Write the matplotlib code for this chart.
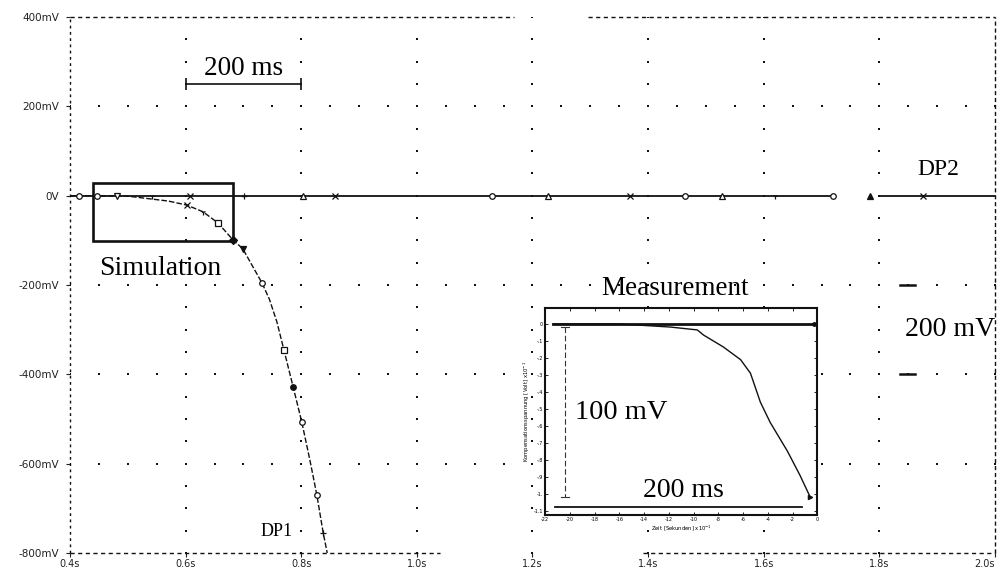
import numpy as np
import matplotlib
matplotlib.use("Agg")
import matplotlib.pyplot as plt

plt.rcParams["lines.scale_dashes"] = False

SERIF = ["Liberation Serif", "DejaVu Serif"]
TICKFONT = ["DejaVu Sans"]

# ---- main axis scale -------------------------------------------------------
x_ticks = [0.4, 0.6, 0.8, 1.0, 1.2, 1.4, 1.6, 1.8, 2.0]
x_tick_labels = ["0.4s", "0.6s", "0.8s", "1.0s", "1.2s", "1.4s", "1.6s", "1.8s", "2.0s"]
y_ticks = [400, 200, 0, -200, -400, -600, -800]
y_tick_labels = ["400mV", "200mV", "0V", "-200mV", "-400mV", "-600mV", "-800mV"]

# ---- simulated trace DP1 (time in s, voltage in mV) -------------------------
dp1_t = [0.40, 0.45, 0.50, 0.538, 0.570, 0.602, 0.630, 0.656, 0.682, 0.699,
         0.715, 0.732, 0.745, 0.758, 0.770, 0.786, 0.801, 0.815, 0.827, 0.838, 0.845]
dp1_v = [0, 0, -1, -7, -12, -21, -36, -61, -99, -119,
         -156, -195, -232, -283, -345, -428, -507, -592, -670, -755, -800]
dp1_markers = {5: "x", 6: "1", 7: "s", 8: "D", 9: "v", 11: "o", 14: "s",
               15: "o", 16: "o", 18: "o", 19: "+"}

# ---- reference trace DP2 (stays at 0 V) -------------------------------------
dp2_t = [0.40, 0.416, 0.447, 0.481, 0.542, 0.608, 0.701, 0.803, 0.858, 1.130,
         1.227, 1.369, 1.464, 1.528, 1.620, 1.720, np.nan, 1.784, np.nan, 1.800,
         1.876, 2.0]
dp2_v = [0, 0, 0, 0, 0, 0, 0, 0, 0, 0,
         0, 0, 0, 0, 0, 0, np.nan, 0, np.nan, 0,
         0, 0]
dp2_markers = {1: "o", 2: "o", 3: "v", 4: "1", 5: "x", 6: "+", 7: "^", 8: "x",
               9: "o", 10: "^", 11: "x", 12: "o", 13: "^", 14: "1", 15: "o",
               17: "^", 20: "x"}

# ---- measured curve (inset, units of 1e-1 s / 1e-1 V) -----------------------
meas_t = [-2.135, -1.60, -1.19, -0.97, -0.92, -0.76, -0.62, -0.54, -0.46,
          -0.38, -0.24, -0.14, -0.056]
meas_v = [0.0, 0.0, -0.018, -0.035, -0.065, -0.135, -0.21, -0.29, -0.46,
          -0.58, -0.75, -0.89, -1.02]
meas_ref_t = [-2.135, -0.03]
meas_ref_v = [0.0, 0.0]
inset_x_ticks = [-2.2, -2.0, -1.8, -1.6, -1.4, -1.2, -1.0, -0.8, -0.6, -0.4, -0.2, 0.0]
inset_x_labels = ["-22", "-20", "-18", "-16", "-14", "-12", "-10", "-8", "-6", "-4", "-2", "0"]
inset_y_ticks = [0.0, -0.1, -0.2, -0.3, -0.4, -0.5, -0.6, -0.7, -0.8, -0.9, -1.0, -1.1]
inset_y_labels = ["0", "-.1", "-.2", "-.3", "-.4", "-.5", "-.6", "-.7", "-.8", "-.9", "-1.", "-1.1"]

fig = plt.figure(figsize=(10.04, 5.73), dpi=100)
ax = fig.add_axes([0.0697, 0.0349, 0.9213, 0.9354])
ax.set_xlim(0.4, 2.0)
ax.set_ylim(-800, 400)

# dotted graticule
for s in ax.spines.values():
    s.set_visible(False)
grid_cols = np.array(x_ticks[1:-1])
grid_rows = np.array([v for v in y_ticks[1:-1] if v != 0])
col_dots_y = np.arange(-800, 401, 50)
row_dots_x = np.arange(0.4, 2.0001, 0.05)
cx, cy = np.meshgrid(grid_cols, col_dots_y)
rx, ry = np.meshgrid(row_dots_x, grid_rows)
ax.scatter(cx.ravel(), cy.ravel(), s=2.0, marker="s", color="#111", linewidths=0, zorder=1)
ax.scatter(rx.ravel(), ry.ravel(), s=2.0, marker="s", color="#111", linewidths=0, zorder=1)

# dashed frame
frame = dict(color="#111", lw=1.0, transform=ax.transAxes, clip_on=False, zorder=2)
ax.plot([0, 0.48], [1, 1], ls=(0, (3, 2.5)), **frame)
ax.plot([0.56, 1], [1, 1], ls=(0, (3, 2.5)), **frame)
ax.plot([0, 0.40], [0, 0], ls=(0, (3, 2.5)), **frame)
ax.plot([0.62, 1], [0, 0], ls=(0, (3, 2.5)), **frame)
ax.plot([0, 0], [0, 1], ls=(0, (2, 2.5)), **frame)
ax.plot([1, 1], [0, 1], ls=(0, (3, 2)), **frame)

ax.set_xticks(x_ticks)
ax.set_xticklabels(x_tick_labels, family=TICKFONT, fontsize=7, color="#222")
ax.set_yticks(y_ticks)
ax.set_yticklabels(y_tick_labels, family=TICKFONT, fontsize=7.5, color="#222")
ax.tick_params(axis="both", direction="out", length=3, width=0.8, color="#222")
ax.tick_params(axis="x", pad=1.5)
ax.tick_params(axis="y", pad=5)
ax.get_xticklabels()[-1].set_horizontalalignment("right")

# traces
ax.plot(dp2_t, dp2_v, color="#111", lw=1.3, zorder=3)
for i, m in dp2_markers.items():
    filled = m in ("^",) and dp2_t[i] > 1.75
    ax.plot(dp2_t[i], dp2_v[i], marker=m, ms=4, mew=0.9, color="#111",
            mfc="#111" if filled else "white", zorder=4)

ax.plot(dp1_t, dp1_v, color="#111", lw=1.0, ls=(0, (4, 1.5)), zorder=3)
for i, m in dp1_markers.items():
    filled = m in ("D", "v") or i == 15
    ax.plot(dp1_t[i], dp1_v[i], marker=m, ms=4, mew=0.9, color="#111",
            mfc="#111" if filled else "white", zorder=4)

# simulation window
ax.add_patch(plt.Rectangle((0.44, -101), 0.242, 129, fill=False, ec="#111", lw=1.9, zorder=5))
ax.text(0.557, -162, "Simulation", family=SERIF, fontsize=20, ha="center", va="center")

# 200 ms scale bar
ax.plot([0.6, 0.8], [250, 250], color="#111", lw=1.2, marker="|", ms=8, mew=1.2)
ax.text(0.7, 256, "200 ms", family=SERIF, fontsize=19.5, ha="center", va="bottom")

# 200 mV scale bar
ax.plot([1.836, 1.862], [-200, -200], color="#111", lw=1.8)
ax.plot([1.836, 1.862], [-400, -400], color="#111", lw=1.8)
ax.text(1.922, -300, "200 mV", family=SERIF, fontsize=20, ha="center", va="center", clip_on=False)

ax.text(1.902, 58, "DP2", family=SERIF, fontsize=17, ha="center", va="center")
ax.text(0.758, -751, "DP1", family=SERIF, fontsize=13, ha="center", va="center")
ax.text(1.447, -208, "Measurement", family=SERIF, fontsize=19.5, ha="center", va="center")

# ---- measurement inset -----------------------------------------------------
ins = fig.add_axes([0.543, 0.1012, 0.271, 0.3613])
ins.set_xlim(-2.2, 0.0)
ins.set_ylim(-1.124, 0.094)
for s in ins.spines.values():
    s.set_linewidth(1.5)
    s.set_color("#111")
ins.set_xticks(inset_x_ticks)
ins.set_xticklabels(inset_x_labels, family=TICKFONT, fontsize=3.5)
ins.set_yticks(inset_y_ticks)
ins.set_yticklabels(inset_y_labels, family=TICKFONT, fontsize=3.5)
ins.tick_params(direction="in", length=2, width=0.6, top=True, right=True, pad=1.5)
ins.set_xlabel("Zeit [Sekunden] x10$^{-1}$", family=TICKFONT, fontsize=3.8, labelpad=1)
ins.set_ylabel("Kompensationsspannung [Volt] x10$^{-1}$", family=TICKFONT, fontsize=3.8, labelpad=1)

ins.plot(meas_ref_t, meas_ref_v, color="#111", lw=2.0)
ins.plot(meas_t, meas_v, color="#111", lw=1.0)
ins.plot(meas_ref_t[-1], meas_ref_v[-1], marker="o", ms=2.5, color="#111")
ins.plot(meas_t[-1], meas_v[-1], marker=">", ms=3, color="#111")

# 100 mV and 200 ms bars inside the inset
ins.plot([-2.04, -2.04], [-0.02, -1.02], color="#333", lw=0.8, ls=(0, (4, 2)))
ins.plot([-2.07, -2.01], [-0.02, -0.02], color="#333", lw=0.8)
ins.plot([-2.07, -2.01], [-1.02, -1.02], color="#333", lw=0.8)
ins.plot([-2.12, -0.12], [-1.076, -1.076], color="#111", lw=1.3)
ins.text(-1.585, -0.518, "100 mV", family=SERIF, fontsize=20.5, ha="center", va="center")
ins.text(-1.083, -0.98, "200 ms", family=SERIF, fontsize=20, ha="center", va="center")

fig.savefig("out.png", dpi=100)
